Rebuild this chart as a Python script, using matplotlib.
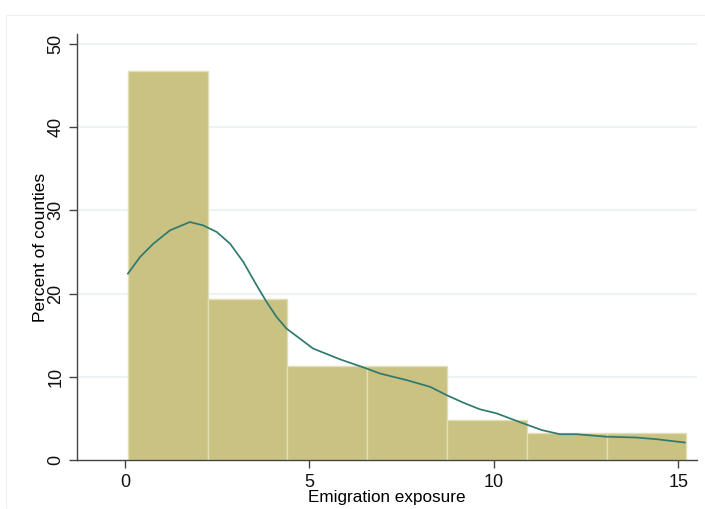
import matplotlib.pyplot as plt
from matplotlib.patches import Rectangle

# histogram bins (emigration exposure) and percent of counties
bin_edges = [0.08, 2.25, 4.39, 6.56, 8.73, 10.90, 13.07, 15.21]
percents = [46.8, 19.4, 11.3, 11.3, 4.8, 3.2, 3.2]

# kernel density overlay (scaled to percent)
kde_x = [0.08, 0.41, 0.77, 1.22, 1.76, 2.12, 2.49, 2.85, 3.21, 3.57, 3.84,
         4.11, 4.38, 4.74, 5.10, 5.83, 6.55, 6.91, 7.64, 8.27, 8.72, 9.17,
         9.62, 10.08, 10.80, 11.30, 11.79, 12.24, 13.06, 13.87, 14.41, 15.18]
kde_y = [22.4, 24.4, 26.0, 27.6, 28.6, 28.2, 27.4, 26.0, 23.8, 21.0, 19.0,
         17.2, 15.8, 14.6, 13.4, 12.1, 11.0, 10.4, 9.6, 8.8, 7.8, 6.9,
         6.1, 5.6, 4.4, 3.6, 3.1, 3.1, 2.8, 2.7, 2.5, 2.1]

x_ticks = [0, 5, 10, 15]
y_ticks = [0, 10, 20, 30, 40, 50]

plt.rcParams["font.family"] = ["Liberation Sans", "DejaVu Sans"]

fig = plt.figure(figsize=(7.05, 5.09), dpi=100)
fig.patches.append(Rectangle((6 / 705, 0), 1, 1 - 15 / 509, transform=fig.transFigure,
                             fill=False, edgecolor="#f0f0f0", linewidth=0.8))
ax = fig.add_axes([77 / 705, 49 / 509, 620 / 705, 426 / 509])

widths = [b - a for a, b in zip(bin_edges[:-1], bin_edges[1:])]
ax.bar(bin_edges[:-1], percents, width=widths, align="edge",
       color="#c9c282", edgecolor="#e3dfb4", linewidth=1.0, zorder=2)
ax.plot(kde_x, kde_y, color="#2f7a6f", linewidth=1.25, zorder=3)

ax.set_xlim(-1.30, 15.51)
ax.set_ylim(0, 51.2)
ax.set_xticks(x_ticks)
ax.set_yticks(y_ticks)
ax.set_yticklabels([str(v) for v in y_ticks], rotation=90, va="center")
ax.tick_params(axis="both", labelsize=13, length=6, width=1, color="#444444",
               labelcolor="#111111")
ax.tick_params(axis="x", pad=4)
ax.tick_params(axis="y", pad=3)

for v in y_ticks[1:]:
    ax.axhline(v, color="#e9f1f3", linewidth=1.2, zorder=0)

for side in ("top", "right"):
    ax.spines[side].set_visible(False)
for side in ("left", "bottom"):
    ax.spines[side].set_color("#444444")
    ax.spines[side].set_linewidth(1.0)

ax.set_xlabel("Emigration exposure", fontsize=12.3)
ax.xaxis.set_label_coords(0.5, -0.07)
ax.set_ylabel("Percent of counties", fontsize=12.5)
ax.yaxis.set_label_coords(-0.047, 0.5)

fig.savefig("out.png", dpi=100, facecolor="white")
